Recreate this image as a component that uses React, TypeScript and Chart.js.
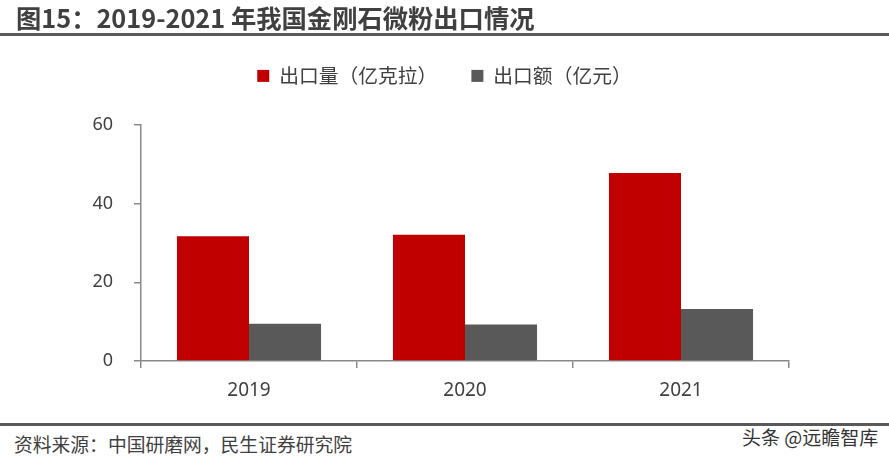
import React, { useEffect, useRef } from "react";
import { Chart, registerables } from "chart.js";

Chart.register(...registerables);

const categories = ["2019", "2020", "2021"];
const seriesNames = ["出口量（亿克拉）", "出口额（亿元）"];
const exportVolume = [31.7, 32.1, 47.8];
const exportValue = [9.5, 9.3, 13.2];
const yTicks = [0, 20, 40, 60];

const FONT = "'Noto Sans', 'Noto Sans CJK SC', sans-serif";
const CJK = "'Noto Sans CJK SC', 'Noto Sans', sans-serif";

const legendSpacer = {
  id: "legendSpacer",
  beforeInit(chart: any) {
    const legend = chart.legend;
    if (!legend) return;
    const orig = legend.fit;
    legend.fit = function () {
      orig.bind(legend)();
      this.height = 93;
    };
  },
  afterLayout(chart: any) {
    const legend = chart.legend;
    if (!legend) return;
    legend.left = 0;
    legend.right = chart.width;
  },
};

export default function App() {
  const ref = useRef<HTMLCanvasElement | null>(null);

  useEffect(() => {
    document.body.style.margin = "0";
    const canvas = ref.current;
    if (!canvas) return;
    const chart = new Chart(canvas, {
      type: "bar",
      data: {
        labels: categories,
        datasets: [
          {
            label: seriesNames[0],
            data: exportVolume,
            backgroundColor: "#C00000",
            borderWidth: 0,
            categoryPercentage: 0.667,
            barPercentage: 1,
          },
          {
            label: seriesNames[1],
            data: exportValue,
            backgroundColor: "#595959",
            borderWidth: 0,
            categoryPercentage: 0.667,
            barPercentage: 1,
          },
        ],
      },
      options: {
        animation: false,
        responsive: false,
        maintainAspectRatio: false,
        devicePixelRatio: 1,
        layout: { padding: { top: 2, right: 100, bottom: 0, left: 0 } },
        plugins: {
          legend: {
            display: true,
            position: "top",
            labels: {
              boxWidth: 12,
              boxHeight: 12,
              padding: 34,
              color: "#404040",
              font: { family: CJK, size: 19.8 },
            },
          },
          tooltip: { enabled: false },
        },
        scales: {
          x: {
            offset: true,
            grid: {
              offset: true,
              drawOnChartArea: false,
              drawTicks: true,
              tickLength: 7,
              color: "#898989",
              lineWidth: 1.5,
            },
            border: { display: true, color: "#898989", width: 1.5 },
            ticks: {
              color: "#404040",
              font: { family: FONT, size: 19 },
              padding: 11,
            },
            afterFit(scale: any) {
              scale.height = 59;
            },
          },
          y: {
            min: 0,
            max: 60,
            afterBuildTicks(scale: any) {
              scale.ticks = yTicks.map((v) => ({ value: v }));
            },
            grid: {
              drawOnChartArea: false,
              drawTicks: true,
              tickLength: 7,
              color: "#898989",
              lineWidth: 1.5,
            },
            border: { display: true, color: "#898989", width: 1.5 },
            ticks: {
              color: "#404040",
              font: { family: FONT, size: 18 },
              padding: 21,
            },
            afterFit(scale: any) {
              scale.width = 141;
            },
          },
        },
      },
      plugins: [legendSpacer],
    });
    return () => chart.destroy();
  }, []);

  return (
    <div
      style={{
        position: "relative",
        width: 889,
        height: 463,
        background: "#ffffff",
        overflow: "hidden",
        fontFamily: CJK,
      }}
    >
      <canvas
        ref={ref}
        width={889}
        height={390}
        style={{ position: "absolute", left: 0, top: 30, width: 889, height: 390 }}
      />
      <div
        style={{
          position: "absolute",
          left: 16,
          top: 2,
          fontSize: 25.3,
          fontWeight: 700,
          color: "#404040",
          lineHeight: "31px",
          whiteSpace: "nowrap",
          fontFamily: CJK,
        }}
      >
        图15：2019-2021 年我国金刚石微粉出口情况
      </div>
      <div
        style={{
          position: "absolute",
          left: 0,
          top: 33,
          width: 889,
          height: 3,
          background: "#595959",
        }}
      />
      <div
        style={{
          position: "absolute",
          left: 0,
          top: 423,
          width: 889,
          height: 3,
          background: "#595959",
        }}
      />
      <div
        style={{
          position: "absolute",
          left: 14,
          top: 431,
          fontSize: 18.8,
          color: "#404040",
          lineHeight: "26px",
          whiteSpace: "nowrap",
          fontFamily: CJK,
        }}
      >
        资料来源：中国研磨网，民生证券研究院
      </div>
      <div
        style={{
          position: "absolute",
          left: 742,
          top: 424,
          fontSize: 19,
          color: "#333333",
          lineHeight: "26px",
          whiteSpace: "nowrap",
          fontFamily: CJK,
        }}
      >
        头条 @远瞻智库
      </div>
    </div>
  );
}
